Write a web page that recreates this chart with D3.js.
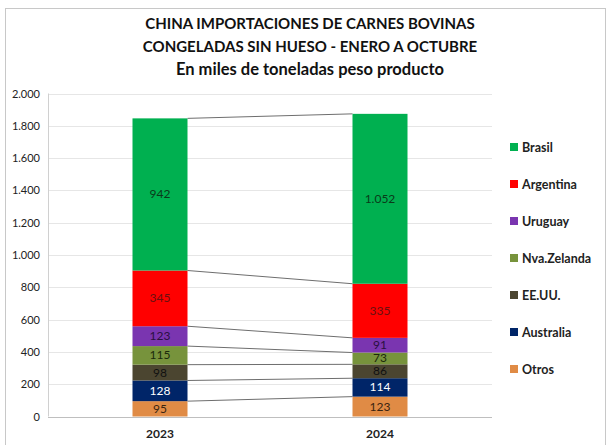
<!DOCTYPE html>
<html lang="es">
<head>
<meta charset="UTF-8">
<title>China importaciones de carnes bovinas</title>
<script src="https://cdn.jsdelivr.net/npm/d3@7/dist/d3.min.js"></script>
<style>
  body { margin: 0; background: #fff; font-family: Lato, "Open Sans", sans-serif; }
</style>
</head>
<body>
<script>
// data, bottom of the stack first
var years = ["2023", "2024"];
var series = ["Otros", "Australia", "EE.UU.", "Nva.Zelanda", "Uruguay", "Argentina", "Brasil"];
var values2023 = [95, 128, 98, 115, 123, 345, 942];
var values2024 = [123, 114, 86, 73, 91, 335, 1052];
var yTicks = [0, 200, 400, 600, 800, 1000, 1200, 1400, 1600, 1800, 2000];
var titleLines = ["CHINA IMPORTACIONES DE CARNES BOVINAS", "CONGELADAS SIN HUESO - ENERO A OCTUBRE", "En miles de toneladas peso producto"];

var colors = {"Otros": "#e08b45", "Australia": "#002568", "EE.UU.": "#4b4530", "Nva.Zelanda": "#77933c",
  "Uruguay": "#7a35b0", "Argentina": "#ff0000", "Brasil": "#00b050"};
var labelColors = {"Otros": "#3a2410", "Australia": "#ffffff", "EE.UU.": "#111", "Nva.Zelanda": "#1c2a0c",
  "Uruguay": "#2a1040", "Argentina": "#6a1010", "Brasil": "#0a3a1a"};

var W = 609, H = 445;
var svg = d3.select("body").append("svg").attr("width", W).attr("height", H);

svg.append("rect").attr("x", 5.5).attr("y", 8.5).attr("width", 600).attr("height", 445)
  .attr("fill", "#fff").attr("stroke", "#c8c8c8");

svg.selectAll("text.title").data(titleLines).enter().append("text")
  .attr("class", "title")
  .attr("x", 310).attr("y", function(d, i) { return 29 + i * 23; })
  .attr("text-anchor", "middle").attr("font-weight", "bold")
  .attr("font-size", function(d, i) { return i === 2 ? 16.5 : 15; })
  .attr("fill", "#111").text(function(d) { return d; });

var x = d3.scaleBand().domain(years).range([50, 490]).paddingInner(0.75).paddingOuter(0.375);
var y = d3.scaleLinear().domain([0, 2000]).range([416.5, 93.5]);

// grid
svg.selectAll("line.grid").data(yTicks).enter().append("line")
  .attr("x1", 48).attr("x2", 492)
  .attr("y1", function(d) { return Math.round(y(d)) + 0.5; })
  .attr("y2", function(d) { return Math.round(y(d)) + 0.5; })
  .attr("stroke", function(d) { return d === 0 ? "#bfbfbf" : "#e6e6e6"; });
svg.append("line").attr("x1", 48.5).attr("x2", 48.5).attr("y1", y(2000)).attr("y2", y(0)).attr("stroke", "#d0d0d0");

var fmt = function(v) { return d3.format(",")(v).replace(/,/g, "."); };

var yAxis = svg.append("g").attr("transform", "translate(48,0)")
  .call(d3.axisLeft(y).tickValues(yTicks).tickSize(0).tickPadding(8).tickFormat(fmt));
yAxis.select(".domain").remove();
yAxis.selectAll("text").attr("font-size", 11).attr("fill", "#222").attr("font-family", "Lato, sans-serif");

var stackData = years.map(function(yr, i) {
  var row = {year: yr};
  var vals = i === 0 ? values2023 : values2024;
  series.forEach(function(s, j) { row[s] = vals[j]; });
  return row;
});
var stacked = d3.stack().keys(series)(stackData);

// connectors between bar tops
stacked.forEach(function(layer) {
  svg.append("line")
    .attr("x1", x(years[0]) + x.bandwidth()).attr("y1", y(layer[0][1]))
    .attr("x2", x(years[1])).attr("y2", y(layer[1][1]))
    .attr("stroke", "#6e6e6e").attr("stroke-width", 1);
});

var groups = svg.selectAll("g.layer").data(stacked).enter().append("g").attr("class", "layer");
groups.selectAll("rect").data(function(d) { return d.map(function(p) { return {key: d.key, p: p}; }); })
  .enter().append("rect")
  .attr("x", function(d) { return x(d.p.data.year); })
  .attr("width", x.bandwidth())
  .attr("y", function(d) { return y(d.p[1]); })
  .attr("height", function(d) { return y(d.p[0]) - y(d.p[1]); })
  .attr("fill", function(d) { return colors[d.key]; });
groups.selectAll("text").data(function(d) { return d.map(function(p) { return {key: d.key, p: p}; }); })
  .enter().append("text")
  .attr("x", function(d) { return x(d.p.data.year) + x.bandwidth() / 2; })
  .attr("y", function(d) { return (y(d.p[0]) + y(d.p[1])) / 2 + 4; })
  .attr("text-anchor", "middle").attr("font-size", 12)
  .attr("fill", function(d) { return labelColors[d.key]; })
  .text(function(d) { return fmt(d.p[1] - d.p[0]); });

// x labels
var xAxis = svg.append("g").attr("transform", "translate(0," + y(0) + ")")
  .call(d3.axisBottom(x).tickSize(0).tickPadding(13));
xAxis.select(".domain").remove();
xAxis.selectAll("text").attr("font-size", 12).attr("font-weight", "bold").attr("fill", "#222").attr("font-family", "Lato, sans-serif");

// legend, Brasil on top
var legend = series.slice().reverse();
var lg = svg.selectAll("g.leg").data(legend).enter().append("g").attr("class", "leg")
  .attr("transform", function(d, i) { return "translate(510," + (147 + i * 37) + ")"; });
lg.append("rect").attr("x", 0).attr("y", -4).attr("width", 8).attr("height", 8)
  .attr("fill", function(d) { return colors[d]; });
lg.append("text").attr("x", 12).attr("y", 4.5).attr("font-size", 12.5).attr("font-weight", "bold")
  .attr("fill", "#222").text(function(d) { return d; });
</script>
</body>
</html>
